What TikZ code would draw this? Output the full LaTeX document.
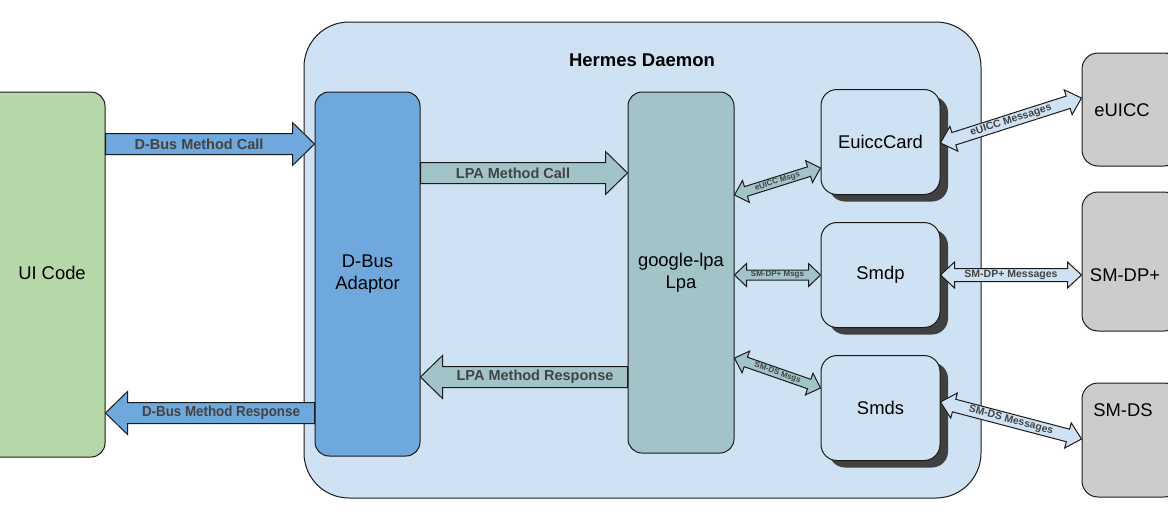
\documentclass[tikz,border=0pt]{standalone}
\usepackage{fontspec}
\usepackage{graphicx}
\setmainfont{Liberation Sans}
\usetikzlibrary{calc,shadows}

\definecolor{daemonfill}{HTML}{CFE2F3}
\definecolor{uifill}{HTML}{B6D7A8}
\definecolor{adaptorfill}{HTML}{6FA8DC}
\definecolor{lpafill}{HTML}{A2C4C9}
\definecolor{extfill}{HTML}{CCCCCC}
\definecolor{shadowfill}{HTML}{404040}
\definecolor{msgtext}{HTML}{434343}
\definecolor{edge}{HTML}{1A1A1A}

\tikzset{
  box/.style={draw=edge, line width=1pt, inner sep=0pt, align=center,
    font=\fontsize{18.4}{22}\selectfont},
  part/.style={box, rounded corners=14pt, minimum width=106pt, minimum height=364pt},
  module/.style={box, fill=daemonfill, rounded corners=16pt, minimum width=119pt,
    minimum height=105pt,
    general shadow={fill=shadowfill, shadow xshift=8pt, shadow yshift=-7pt}},
  extbox/.style={box, fill=extfill, rounded corners=16pt, minimum width=98pt},
  boxtext/.style={font=\fontsize{18.4}{22}\selectfont, inner sep=0pt},
  arrowedge/.style={draw=edge, line width=1pt, line join=miter},
  biglabel/.style={font=\bfseries\fontsize{14.5}{16}\selectfont, text=msgtext, inner sep=0pt},
  midlabel/.style={font=\bfseries\fontsize{10.5}{12}\selectfont, text=msgtext, inner sep=0pt},
  smalllabel/.style={font=\bfseries\fontsize{8}{9}\selectfont, text=msgtext, inner sep=0pt},
}

\def\bigarrow#1#2#3#4{%
  \coordinate (ta) at (#2);
  \coordinate (tb) at (#3);
  \coordinate (hb) at ($(tb)!22pt!(ta)$);
  \filldraw[arrowedge, fill=#1] ($(ta)!10.5pt!90:(tb)$) -- ($(hb)!10.5pt!90:(tb)$)
    -- ($(hb)!21.5pt!90:(tb)$) -- (tb) -- ($(hb)!21.5pt!-90:(tb)$)
    -- ($(hb)!10.5pt!-90:(tb)$) -- ($(ta)!10.5pt!-90:(tb)$) -- cycle;
  \path (ta) -- (hb) node[midway, sloped, biglabel] {#4};
}
\def\twoarrow#1#2#3#4#5{%
  \coordinate (ta) at (#2);
  \coordinate (tb) at (#3);
  \coordinate (ha) at ($(ta)!\hl!(tb)$);
  \coordinate (hb) at ($(tb)!\hl!(ta)$);
  \filldraw[arrowedge, fill=#1] (ta) -- ($(ha)!\hw!90:(tb)$) -- ($(ha)!\sw!90:(tb)$)
    -- ($(hb)!\sw!90:(tb)$) -- ($(hb)!\hw!90:(tb)$) -- (tb)
    -- ($(hb)!\hw!-90:(tb)$) -- ($(hb)!\sw!-90:(tb)$) -- ($(ha)!\sw!-90:(tb)$)
    -- ($(ha)!\hw!-90:(tb)$) -- cycle;
  \path (ta) -- (tb) node[midway, sloped, #5] {#4};
}

\begin{document}
\begin{tikzpicture}[x=1pt,y=-1pt]
\clip (0,0) rectangle (1168,530);

\node[box, fill=daemonfill, rounded corners=45pt, minimum width=677pt, minimum height=476pt] (daemon) at (642.5,260) {};
\node[font=\bfseries\fontsize{18.5}{22}\selectfont, inner sep=0pt] (title) at (642,60) {Hermes Daemon};

\node[part, fill=uifill, minimum width=135pt, minimum height=365pt] (ui) at (37.5,274.5) {};
\node[boxtext] (uitext) at (52,273) {UI Code};
\node[part, fill=adaptorfill, minimum width=105pt] (adaptor) at (367.5,274) {D-Bus\\Adaptor};
\node[part, fill=lpafill, minimum height=361pt] (lpa) at (681,272.5) {google-lpa\\Lpa};

\foreach \name/\txt/\y in {euicc/EuiccCard/142, smdp/Smdp/275, smds/Smds/408}
  \node[module] (\name) at (880.5,\y) {\txt};

\foreach \name/\y/\h in {euiccx/109.5/113, smdpx/261.5/139, smdsx/440/114}
  \node[extbox, minimum height=\h pt] (\name) at (1131,\y) {};
\node[boxtext] (euiccxt) at (1122,110) {eUICC};
\node[boxtext] (smdpxt) at (1125,275) {SM-DP+};
\node[boxtext] (smdsxt) at (1123,410) {SM-DS};

\bigarrow{adaptorfill}{ui.east |- 0,144}{adaptor.west |- 0,144}{D-Bus Method Call}
\bigarrow{lpafill}{adaptor.east |- 0,173}{lpa.west |- 0,173}{LPA Method Call}
\bigarrow{lpafill}{lpa.west |- 0,377}{adaptor.east |- 0,377}{LPA Method Response}
\bigarrow{adaptorfill}{adaptor.west |- 0,413}{ui.east |- 0,413}{\scalebox{0.92}[1]{D-Bus Method Response}}

\def\sw{5pt}\def\hw{11.5pt}\def\hl{12pt}
\twoarrow{lpafill}{lpa.east |- 0,195}{euicc.west |- 0,168}{eUICC Msgs}{smalllabel}
\twoarrow{lpafill}{lpa.east |- smdp.west}{smdp.west}{SM-DP+ Msgs}{smalllabel}
\twoarrow{lpafill}{lpa.east |- 0,358}{smds.west |- 0,388}{SM-DS Msgs}{smalllabel}

\def\sw{6.5pt}\def\hw{13pt}\def\hl{14pt}
\twoarrow{daemonfill}{euicc.east |- 0,143}{euiccx.west |- 0,98}{eUICC Messages}{midlabel}
\twoarrow{daemonfill}{smdp.east}{smdpx.west |- smdp.east}{SM-DP+ Messages}{midlabel}
\twoarrow{daemonfill}{smds.east |- 0,402}{smdsx.west |- 0,439}{SM-DS Messages}{midlabel}
\end{tikzpicture}
\end{document}
